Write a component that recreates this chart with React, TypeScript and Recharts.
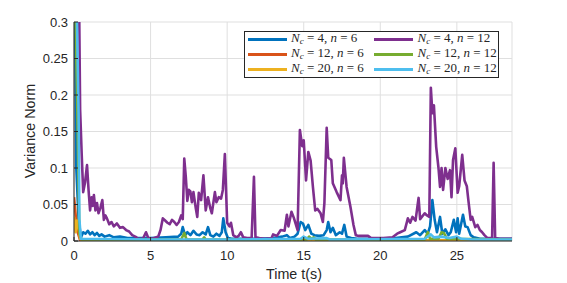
import React from 'react';
import { LineChart, Line, XAxis, YAxis, CartesianGrid, Legend } from 'recharts';

// time stamps (s) and variance norm values
const tBlue = [0, 0.15, 0.3, 0.45, 0.6, 0.75, 0.9, 1.05, 1.2, 1.35, 1.5, 1.65, 1.8, 2.0, 2.3, 2.6, 3.0, 3.5, 4.0, 5.0, 6.0, 6.8, 7.0, 7.1, 7.25, 7.4, 7.6, 7.8, 8.0, 8.2, 8.4, 8.6, 8.75, 8.9, 9.1, 9.3, 9.5, 9.65, 9.75, 9.9, 10.05, 10.3, 11, 12, 13, 13.6, 13.9, 14.1, 14.4, 14.6, 14.8, 14.95, 15.1, 15.3, 15.5, 15.7, 16.0, 16.3, 16.5, 16.6, 16.75, 16.9, 17.1, 17.35, 17.5, 17.65, 17.8, 18.1, 18.5, 19.5, 21, 21.8, 22.35, 22.6, 22.9, 23.1, 23.25, 23.4, 23.55, 23.7, 23.9, 24.05, 24.25, 24.45, 24.6, 24.8, 24.95, 25.05, 25.15, 25.4, 25.55, 25.7, 25.9, 26.1, 26.5, 28.6];
const vBlue = [0.5, 0.1, 0.03, 0.005, 0.012, 0.01, 0.014, 0.009, 0.012, 0.008, 0.011, 0.007, 0.009, 0.006, 0.008, 0.005, 0.006, 0.004, 0.004, 0.004, 0.005, 0.006, 0.01, 0.019, 0.008, 0.012, 0.008, 0.014, 0.009, 0.008, 0.012, 0.009, 0.019, 0.008, 0.006, 0.01, 0.007, 0.012, 0.031, 0.012, 0.004, 0.003, 0.003, 0.003, 0.004, 0.006, 0.008, 0.004, 0.006, 0.01, 0.026, 0.024, 0.015, 0.022, 0.01, 0.008, 0.007, 0.008, 0.015, 0.026, 0.012, 0.018, 0.008, 0.012, 0.01, 0.022, 0.006, 0.004, 0.003, 0.003, 0.004, 0.006, 0.012, 0.008, 0.015, 0.01, 0.02, 0.056, 0.029, 0.012, 0.033, 0.01, 0.016, 0.008, 0.012, 0.029, 0.012, 0.031, 0.01, 0.036, 0.02, 0.019, 0.008, 0.005, 0.003, 0.003];

const tOrange = [0, 0.2, 0.4, 1, 28.6];
const vOrange = [0.06, 0.015, 0.001, 0.001, 0.001];

const tYellow = [0, 0.1, 0.18, 0.28, 0.4, 0.6, 28.6];
const vYellow = [0.033, 0.012, 0.028, 0.02, 0.003, 0.0005, 0.0005];

const tPurple = [0, 0.3, 0.4, 0.5, 0.6, 0.72, 0.85, 0.95, 1.05, 1.15, 1.22, 1.3, 1.4, 1.5, 1.6, 1.72, 1.85, 1.95, 2.05, 2.15, 2.3, 2.45, 2.6, 2.8, 3.0, 3.2, 3.4, 3.6, 3.8, 4.0, 4.2, 4.5, 4.7, 4.85, 5.1, 5.35, 5.5, 5.65, 5.8, 5.95, 6.1, 6.25, 6.4, 6.55, 6.7, 6.85, 7.0, 7.1, 7.2, 7.3, 7.4, 7.5, 7.6, 7.7, 7.8, 7.95, 8.05, 8.15, 8.3, 8.45, 8.6, 8.75, 8.9, 9.0, 9.2, 9.3, 9.45, 9.6, 9.72, 9.85, 10.0, 10.15, 10.25, 10.4, 10.6, 10.75, 10.9, 11.05, 11.3, 11.6, 11.75, 11.85, 12.1, 12.5, 12.9, 13.0, 13.25, 13.5, 13.75, 13.9, 14.0, 14.2, 14.35, 14.6, 14.75, 14.9, 15.0, 15.15, 15.3, 15.45, 15.6, 15.75, 15.9, 16.1, 16.25, 16.35, 16.5, 16.6, 16.8, 16.9, 17.15, 17.4, 17.5, 17.55, 17.62, 17.8, 18.05, 18.25, 18.4, 18.6, 19.2, 19.4, 20.2, 20.8, 21.1, 21.3, 21.6, 21.8, 21.95, 22.1, 22.3, 22.5, 22.6, 22.9, 23.05, 23.2, 23.3, 23.4, 23.5, 23.65, 23.8, 23.9, 24.0, 24.1, 24.25, 24.4, 24.55, 24.65, 24.75, 24.9, 25.05, 25.15, 25.35, 25.5, 25.65, 25.75, 25.9, 26.0, 26.2, 26.35, 26.5, 26.65, 26.8, 27.0, 27.3, 27.4, 27.5, 27.8, 28.6];
const vPurple = [0.6, 0.4, 0.18, 0.12, 0.067, 0.08, 0.104, 0.07, 0.042, 0.06, 0.048, 0.063, 0.042, 0.052, 0.038, 0.045, 0.056, 0.029, 0.035, 0.031, 0.023, 0.026, 0.02, 0.024, 0.018, 0.019, 0.015, 0.013, 0.008, 0.006, 0.003, 0.003, 0.012, 0.004, 0.003, 0.005, 0.006, 0.015, 0.031, 0.028, 0.025, 0.023, 0.029, 0.026, 0.022, 0.026, 0.035, 0.03, 0.113, 0.088, 0.055, 0.07, 0.068, 0.053, 0.067, 0.045, 0.033, 0.066, 0.056, 0.09, 0.042, 0.06, 0.045, 0.038, 0.067, 0.053, 0.06, 0.058, 0.07, 0.119, 0.025, 0.02, 0.025, 0.008, 0.005, 0.007, 0.012, 0.005, 0.004, 0.004, 0.088, 0.005, 0.004, 0.003, 0.004, 0.009, 0.007, 0.015, 0.014, 0.036, 0.02, 0.04, 0.032, 0.015, 0.152, 0.13, 0.138, 0.083, 0.122, 0.11, 0.074, 0.042, 0.044, 0.038, 0.026, 0.052, 0.155, 0.114, 0.111, 0.079, 0.067, 0.056, 0.09, 0.079, 0.114, 0.074, 0.047, 0.022, 0.008, 0.007, 0.007, 0.004, 0.004, 0.005, 0.01, 0.012, 0.015, 0.031, 0.025, 0.033, 0.028, 0.059, 0.03, 0.038, 0.035, 0.033, 0.21, 0.175, 0.186, 0.129, 0.1, 0.074, 0.1, 0.07, 0.1, 0.085, 0.097, 0.06, 0.111, 0.127, 0.066, 0.075, 0.118, 0.083, 0.075, 0.056, 0.029, 0.033, 0.019, 0.022, 0.015, 0.012, 0.008, 0.004, 0.004, 0.107, 0.004, 0.003, 0.003];

const tGreen = [0, 0.2, 0.35, 0.5, 7.0, 7.2, 7.35, 8.4, 8.5, 8.6, 15.2, 15.35, 15.5, 15.65, 15.8, 22.9, 23.1, 23.25, 23.8, 24.0, 24.15, 24.35, 28.6];
const vGreen = [0.4, 0.2, 0.01, 0.002, 0.002, 0.011, 0.002, 0.002, 0.005, 0.002, 0.002, 0.006, 0.003, 0.005, 0.002, 0.002, 0.012, 0.003, 0.003, 0.012, 0.011, 0.003, 0.002];

const tCyan = [0, 0.15, 0.3, 0.35, 0.45, 5, 10, 14.8, 15.0, 15.3, 16.5, 16.7, 22.9, 23.3, 23.5, 24.0, 24.5, 25.0, 25.3, 26, 28.6];
const vCyan = [0.5, 0.35, 0.177, 0.03, 0.003, 0.002, 0.002, 0.003, 0.006, 0.003, 0.004, 0.002, 0.003, 0.009, 0.005, 0.006, 0.004, 0.006, 0.003, 0.002, 0.002];

const xTicks = [0, 5, 10, 15, 20, 25];
const yTicks = [0, 0.05, 0.1, 0.15, 0.2, 0.25, 0.3];

const zip = (t: number[], v: number[]) => t.map((x, i) => ({ t: x, v: v[i] }));

const series = [
  { name: 'b', Nc: 4, n: 6, color: '#0072BD', data: zip(tBlue, vBlue) },
  { name: 'o', Nc: 12, n: 6, color: '#D95319', data: zip(tOrange, vOrange) },
  { name: 'y', Nc: 20, n: 6, color: '#EDB120', data: zip(tYellow, vYellow) },
  { name: 'p', Nc: 4, n: 12, color: '#7E2F8E', data: zip(tPurple, vPurple) },
  { name: 'g', Nc: 12, n: 12, color: '#77AC30', data: zip(tGreen, vGreen) },
  { name: 'c', Nc: 20, n: 12, color: '#4DBEEE', data: zip(tCyan, vCyan) },
];

const axisColor = '#262626';
const tickFont = { fontFamily: 'Liberation Sans, Arial, sans-serif', fontSize: 13, fill: axisColor };
const labelFont = { ...tickFont, fontSize: 14.3 };

function MathLegend() {
  // column-major like MATLAB's NumColumns = 2
  const cols = [series.slice(0, 3), series.slice(3, 6)];
  return (
    <div
      style={{
        border: `1px solid ${axisColor}`,
        background: '#fff',
        width: 253,
        height: 45,
        display: 'flex',
        fontFamily: 'Liberation Serif, Times New Roman, serif',
        fontSize: 13,
        color: axisColor,
        boxSizing: 'content-box',
      }}
    >
      {cols.map((col, ci) => (
        <div key={ci} style={{ paddingLeft: ci === 0 ? 3 : 0, width: ci === 0 ? 128 : 125 }}>
          {col.map((s) => (
            <div key={s.name} style={{ display: 'flex', alignItems: 'center', height: 15 }}>
              <div style={{ width: 39, height: 3, background: s.color, marginRight: 4 }} />
              <span style={{ whiteSpace: 'nowrap', lineHeight: '15px' }}>
                <i>N</i>
                <sub style={{ fontSize: 9, fontStyle: 'italic', verticalAlign: -2 }}>c</sub>
                {' = '}
                {s.Nc},&nbsp;<i>n</i>{' = '}
                {s.n}
              </span>
            </div>
          ))}
        </div>
      ))}
    </div>
  );
}

export default function App() {
  return (
    <div style={{ position: 'absolute', left: 0, top: 0, width: 567, height: 283, background: '#fff' }}>
      <LineChart width={567} height={283} margin={{ top: 22, right: 55, bottom: 12, left: 30 }}>
        <CartesianGrid stroke="#dfdfdf" strokeWidth={1} />
        <XAxis
          type="number"
          dataKey="t"
          domain={[0, 28.6]}
          ticks={xTicks}
          allowDataOverflow
          height={30}
          stroke={axisColor}
          tickSize={-4}
          tickMargin={14}
          tick={tickFont}
          label={{
            content: () => (
              <text x={294} y={279} textAnchor="middle" style={labelFont}>
                Time t(s)
              </text>
            ),
          }}
        />
        <XAxis
          xAxisId="top"
          orientation="top"
          type="number"
          dataKey="t"
          domain={[0, 28.6]}
          ticks={xTicks}
          height={0}
          stroke={axisColor}
          tickSize={-4}
          tickFormatter={() => ''}
        />
        <YAxis
          type="number"
          domain={[0, 0.3]}
          ticks={yTicks}
          allowDataOverflow
          width={44}
          stroke={axisColor}
          tickSize={-4}
          tickMargin={10}
          tick={tickFont}
          tickFormatter={(v: number) => String(+v.toFixed(2))}
          label={{
            content: () => (
              <text x={35} y={131} textAnchor="middle" transform="rotate(-90 35 131)" style={labelFont}>
                Variance Norm
              </text>
            ),
          }}
        />
        <YAxis
          yAxisId="right"
          orientation="right"
          type="number"
          domain={[0, 0.3]}
          ticks={yTicks}
          width={0}
          stroke={axisColor}
          tickSize={-4}
          tickFormatter={() => ''}
        />
        {series.map((s) => (
          <Line
            key={s.name}
            data={s.data}
            dataKey="v"
            type="linear"
            stroke={s.color}
            strokeWidth={2.6}
            strokeLinejoin="round"
            dot={false}
            activeDot={false}
            isAnimationActive={false}
          />
        ))}
        <Legend
          layout="horizontal"
          verticalAlign="middle"
          content={() => <MathLegend />}
          wrapperStyle={{ left: 244, top: 31, width: 255, height: 47 }}
        />
      </LineChart>
    </div>
  );
}
